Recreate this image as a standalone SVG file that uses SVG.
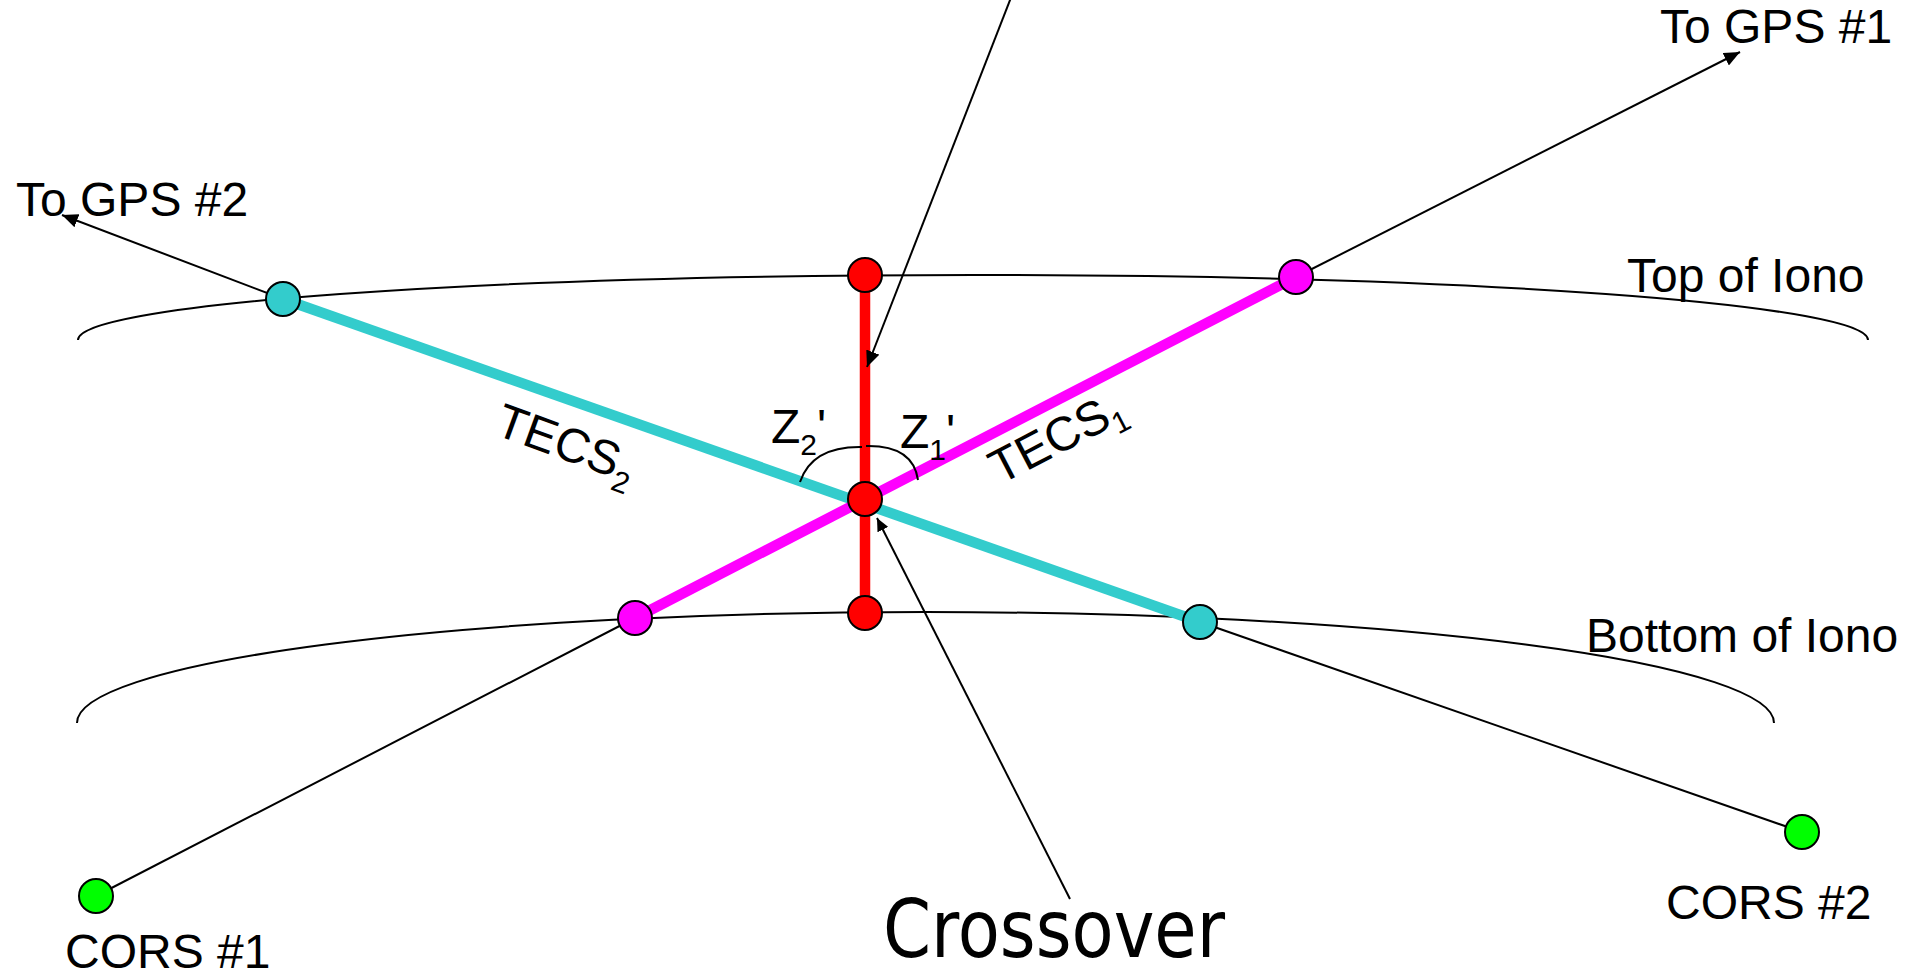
<svg xmlns="http://www.w3.org/2000/svg" width="1905" height="975" viewBox="0 0 1905 975">
<style>
.lbl{font-family:"Liberation Sans",Arial,sans-serif;font-size:48px;fill:#000}
.sub{font-size:30px}
.thin{stroke:#000;stroke-width:2;fill:none}
.thick{stroke-width:10.5;fill:none}
.node{stroke:#000;stroke-width:2}
.cyan{fill:#33CCCC}
.mag{fill:#FF00FF}
.red{fill:#FF0000}
.grn{fill:#00FF00}
</style>
<defs>
<marker id="ah" markerUnits="userSpaceOnUse" markerWidth="16" markerHeight="14" refX="16" refY="7" orient="auto">
<path d="M0,0 L16,7 L0,14 z" fill="#000"/>
</marker>
<marker id="ahs" markerUnits="userSpaceOnUse" markerWidth="13" markerHeight="12" refX="13" refY="6" orient="auto">
<path d="M0,0 L13,6 L0,12 z" fill="#000"/>
</marker>
</defs>
<g id="iono">
<path class="thin" d="M 78 340 A 895 65 0 0 1 1868 340"/>
<path class="thin" d="M 77 723 A 848.5 111 0 0 1 1774 723"/>
</g>
<g id="connectors">
<line class="thin" x1="283" y1="299" x2="62" y2="215" marker-end="url(#ah)"/>
<line class="thin" x1="1296" y1="277" x2="1740" y2="52" marker-end="url(#ah)"/>
<line class="thin" x1="96" y1="896" x2="635" y2="618"/>
<line class="thin" x1="1802" y1="832" x2="1200" y2="622"/>
<line class="thick" stroke="#33CCCC" x1="283" y1="299" x2="1200" y2="622"/>
<line class="thick" stroke="#FF00FF" x1="635" y1="618" x2="1296" y2="277"/>
<line class="thick" stroke="#FF0000" x1="865" y1="275" x2="865" y2="613"/>
<line class="thin" x1="1012" y1="-5" x2="867" y2="367" marker-end="url(#ah)"/>
<line class="thin" x1="1070" y1="899" x2="877" y2="518" marker-end="url(#ahs)"/>
<path class="thin" d="M 800 482 Q 812 446 862 447"/>
<path class="thin" d="M 866 446 Q 913 445 918 480"/>
</g>
<g id="gps2-top"><circle class="node cyan" cx="283" cy="299" r="17"/></g>
<g id="red-top"><circle class="node red" cx="865" cy="275" r="17"/></g>
<g id="gps1-top"><circle class="node mag" cx="1296" cy="277" r="17"/></g>
<g id="crossover-node"><circle class="node red" cx="865" cy="499" r="17"/></g>
<g id="red-bottom"><circle class="node red" cx="865" cy="613" r="17"/></g>
<g id="gps1-bottom"><circle class="node mag" cx="635" cy="618" r="17"/></g>
<g id="gps2-bottom"><circle class="node cyan" cx="1200" cy="622" r="17"/></g>
<g id="cors1"><circle class="node grn" cx="96" cy="896" r="17"/><text class="lbl" x="65" y="968">CORS #1</text></g>
<g id="cors2"><circle class="node grn" cx="1802" cy="832" r="17"/><text class="lbl" x="1666" y="919">CORS #2</text></g>
<g id="labels">
<text class="lbl" x="16" y="216">To GPS #2</text>
<text class="lbl" x="1660" y="43">To GPS #1</text>
<text class="lbl" x="1627" y="292">Top of Iono</text>
<text class="lbl" x="1586" y="652">Bottom of Iono</text>
<text class="lbl" x="771" y="443">Z<tspan class="sub" dy="12">2</tspan><tspan dy="-12">'</tspan></text>
<text class="lbl" x="900" y="448">Z<tspan class="sub" dy="12">1</tspan><tspan dy="-12">'</tspan></text>
<text class="lbl" transform="translate(493,434) rotate(20)">TECS<tspan class="sub" dy="12">2</tspan></text>
<text class="lbl" transform="translate(1000,485) rotate(-27.5)">TECS<tspan class="sub" dy="10">1</tspan></text>
<text x="883" y="957" font-family="'DejaVu Sans Condensed','DejaVu Sans',sans-serif" font-size="80" textLength="342" lengthAdjust="spacingAndGlyphs">Crossover</text>
</g>
</svg>
